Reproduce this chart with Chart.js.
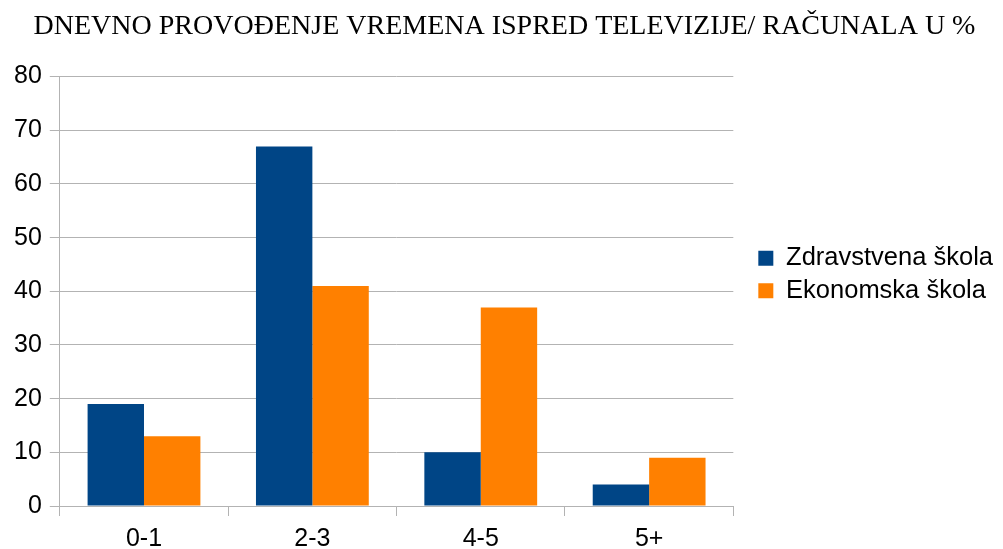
<!DOCTYPE html>
<html lang="hr">
<head>
<meta charset="UTF-8">
<title>Dnevno provođenje vremena</title>
<style>
  body { margin: 0; background: #fff; }
  .wrap { width: 1003px; height: 549px; position: relative; }
</style>
</head>
<body>
<div class="wrap"><canvas id="chart"></canvas></div>
<script src="https://cdn.jsdelivr.net/npm/chart.js"></script>
<script>
const categories = ['0-1', '2-3', '4-5', '5+'];
const zdravstvena = [19, 67, 10, 4];
const ekonomska = [13, 41, 37, 9];
const yTicks = [0, 10, 20, 30, 40, 50, 60, 70, 80];

const gridCol = '#b3b3b3';
const sans = '"Liberation Sans", Arial, sans-serif';

new Chart(document.getElementById('chart'), {
  type: 'bar',
  data: {
    labels: categories,
    datasets: [
      { label: 'Zdravstvena škola', data: zdravstvena, backgroundColor: '#004586' },
      { label: 'Ekonomska škola', data: ekonomska, backgroundColor: '#ff8000' }
    ]
  },
  options: {
    responsive: true,
    maintainAspectRatio: false,
    animation: false,
    devicePixelRatio: 1,
    layout: { padding: { left: 6, right: 0, top: 0, bottom: 0 } },
    datasets: { bar: { barPercentage: 1, categoryPercentage: 0.67 } },
    plugins: {
      title: {
        display: true,
        text: 'DNEVNO PROVOĐENJE VREMENA ISPRED TELEVIZIJE/ RAČUNALA U %',
        color: '#000',
        font: { family: '"Liberation Serif", serif', size: 28, weight: 'normal' },
        padding: { top: 10, bottom: 33 }
      },
      legend: {
        position: 'right',
        maxWidth: 270,
        labels: {
          color: '#000',
          boxWidth: 15,
          boxHeight: 15,
          padding: 7,
          font: { family: sans, size: 25.5 }
        }
      },
      tooltip: { enabled: false }
    },
    scales: {
      x: {
        grid: {
          offset: true,
          drawOnChartArea: true,
          // only the right edge line goes through the plot
          color: ctx => ctx.index === categories.length ? gridCol : 'transparent',
          tickColor: gridCol,
          tickLength: 10
        },
        border: { color: gridCol },
        ticks: { color: '#000', padding: 8.5, font: { family: sans, size: 25 } },
        // fixed height so labels sit lower without shrinking the plot
        afterFit: axis => { axis.height = 43; }
      },
      y: {
        min: 0,
        max: 80,
        afterBuildTicks: axis => { axis.ticks = yTicks.map(v => ({ value: v })); },
        grid: { color: gridCol, tickColor: gridCol, tickLength: 10 },
        border: { color: gridCol },
        ticks: { color: '#000', padding: 8, font: { family: sans, size: 25 } }
      },
      // empty axis, just a gap between plot and legend
      gap: {
        position: 'right',
        grid: { display: false },
        border: { display: false },
        ticks: { display: false },
        afterFit: axis => { axis.width = 18; }
      }
    }
  }
});
</script>
</body>
</html>
